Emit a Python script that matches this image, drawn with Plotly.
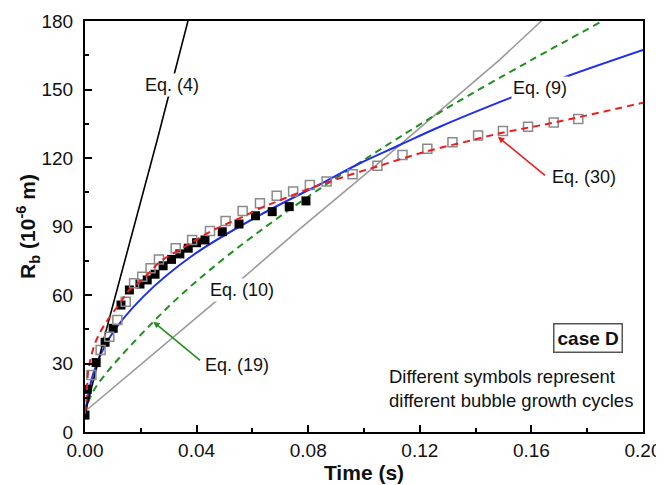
import plotly.graph_objects as go

# ---- data ----
t_filled = [0.0, 0.0008, 0.004, 0.0072, 0.0101, 0.0129, 0.0159, 0.0197, 0.0223, 0.0251, 0.028,
            0.031, 0.034, 0.037, 0.040, 0.043, 0.0492, 0.0552, 0.0611, 0.0671, 0.0732, 0.0792]
r_filled = [7.4, 18.7, 30.4, 39.3, 45.4, 55.6, 62.2, 64.8, 66.6, 69.1, 72.8,
            75.6, 78.0, 80.5, 82.9, 84.1, 87.7, 91.1, 94.7, 96.5, 98.7, 101.2]

t_open = [0.0023, 0.0056, 0.0087, 0.0116, 0.0146, 0.0176, 0.0205, 0.0235, 0.0265, 0.0325,
          0.0384, 0.0448, 0.0504, 0.0565, 0.0627, 0.0687, 0.0746, 0.0806, 0.0866, 0.0959,
          0.1048, 0.1138, 0.1227, 0.1317, 0.1409, 0.1498, 0.1588, 0.168, 0.1768]
r_open = [25, 35.9, 41.7, 49, 57, 65.1, 68, 71.7, 75.6, 80.5,
          84.1, 88.0, 92.4, 96.8, 100.2, 103.5, 105.3, 108.2, 109.7, 112.9,
          116.6, 121.3, 124, 126.9, 129.8, 131.8, 133.7, 135.5, 137.1]

t_eq4 = [0, 0.004, 0.0066, 0.0123, 0.0259, 0.0369]
r_eq4 = [8, 28, 40, 66, 128, 180]

t_eq9 = [0, 0.0006, 0.003, 0.009, 0.0209, 0.0388, 0.0627, 0.0866, 0.0985, 0.1128, 0.1272, 0.1522, 0.1731, 0.2]
r_eq9 = [8, 12.6, 25.7, 41.7, 59.3, 77.5, 95, 110, 117.7, 125.7, 133.7, 146.2, 155.9, 167.3]

t_eq10 = [0, 0.0472, 0.077, 0.1045, 0.1486, 0.1636]
r_eq10 = [9, 57.5, 89, 117, 163, 180]

t_eq19 = [0, 0.003, 0.0245, 0.0448, 0.0734, 0.0985, 0.1272, 0.1594, 0.1855]
r_eq19 = [8, 18, 48.3, 71, 97.5, 118, 140, 162.5, 180]

t_eq30 = [0, 0.0006, 0.0012, 0.0036, 0.007, 0.0125, 0.0159, 0.0197, 0.0233, 0.0269, 0.0328,
          0.0388, 0.0448, 0.0507, 0.0567, 0.0627, 0.0687, 0.0746, 0.0806, 0.0866, 0.0925,
          0.0985, 0.1045, 0.1227, 0.1391, 0.1486, 0.168, 0.2]
r_eq30 = [8, 15.5, 27, 38.8, 47, 56.4, 62.2, 65.8, 70.2, 74.6, 79,
          83.4, 87.7, 91.1, 94.3, 98, 100.9, 103.8, 106.7, 109.2, 111.6,
          114, 116.2, 123, 127.9, 130.8, 135.5, 144.2]

x_ticks = [0.00, 0.04, 0.08, 0.12, 0.16, 0.20]
y_ticks = [0, 30, 60, 90, 120, 150, 180]

FONT = "Arial, Liberation Sans, sans-serif"

fig = go.Figure()
fig.add_trace(go.Scatter(x=t_eq10, y=r_eq10, mode="lines", line=dict(color="#9a9a9a", width=1.6)))
fig.add_trace(go.Scatter(x=t_eq19, y=r_eq19, mode="lines", line=dict(color="#1f8f1f", width=2, dash="7px,5px", shape="spline")))
fig.add_trace(go.Scatter(x=t_eq9, y=r_eq9, mode="lines", line=dict(color="#1f2fe6", width=2, shape="spline")))
fig.add_trace(go.Scatter(x=t_eq4, y=r_eq4, mode="lines", line=dict(color="black", width=1.6)))
fig.add_trace(go.Scatter(x=t_filled, y=r_filled, mode="markers",
                         marker=dict(symbol="square", size=9, color="black")))
fig.add_trace(go.Scatter(x=t_open, y=r_open, mode="markers",
                         marker=dict(symbol="square-open", size=9, color="#8a8a8a", line=dict(width=1.5))))
fig.add_trace(go.Scatter(x=t_eq30, y=r_eq30, mode="lines", line=dict(color="#ee1c1c", width=2, dash="7px,5px", shape="spline")))

ann_font = dict(family=FONT, size=18, color="#111")
annotations = [
    dict(x=0.0312, y=152, text="Eq. (4)", showarrow=False, font=ann_font, bgcolor="white"),
    dict(x=0.1631, y=150.7, text="Eq. (9)", showarrow=False, font=ann_font, bgcolor="white"),
    dict(x=0.0562, y=62.2, text="Eq. (10)", showarrow=False, font=ann_font, bgcolor="white"),
    dict(x=0.0546, y=29.3, text="Eq. (19)", showarrow=False, font=ann_font),
    dict(x=0.1787, y=111.7, text="Eq. (30)", showarrow=False, font=ann_font),
    dict(x=0.0245, y=48.3, ax=0.0418, ay=30.8, axref="x", ayref="y", text="", showarrow=True,
         arrowhead=2, arrowsize=0.8, arrowwidth=1.6, arrowcolor="#1f8f1f"),
    dict(x=0.148, y=129.3, ax=0.1654, ay=111.8, axref="x", ayref="y", text="", showarrow=True,
         arrowhead=2, arrowsize=0.8, arrowwidth=1.6, arrowcolor="#ee1c1c"),
    dict(x=0.1802, y=41.2, text="<b>case D</b>", showarrow=False,
         font=dict(family=FONT, size=19, color="#111"), bordercolor="#555", borderwidth=1.5, borderpad=3),
    dict(x=0.1083, y=18.9, xanchor="left", align="left", showarrow=False,
         text="Different symbols represent<br>different bubble growth cycles",
         font=dict(family=FONT, size=18.5, color="#111")),
]

# page body adds an 8px offset; figure is sized/margined to compensate
fig.update_layout(
    width=656, height=477,
    margin=dict(l=77, r=21, t=13, b=53),
    paper_bgcolor="white", plot_bgcolor="white",
    showlegend=False,
    font=dict(family=FONT, size=19, color="#111"),
    annotations=annotations,
    xaxis=dict(range=[0, 0.2], tickvals=x_ticks, tickformat=".2f", automargin=False,
               ticks="inside", ticklen=7, tickwidth=1.5, tickcolor="black",
               minor=dict(dtick=0.02, ticks="inside", ticklen=4, tickwidth=1.5, tickcolor="black"),
               showline=True, linecolor="black", linewidth=2, mirror=True, showgrid=False, zeroline=False,
               title=dict(text="<b>Time (s)</b>", font=dict(size=21), standoff=6),
               tickfont=dict(size=19)),
    yaxis=dict(range=[0, 180], tickvals=y_ticks, automargin=False, ticklabelstandoff=6,
               ticks="inside", ticklen=7, tickwidth=1.5, tickcolor="black",
               minor=dict(dtick=15, ticks="inside", ticklen=4, tickwidth=1.5, tickcolor="black"),
               showline=True, linecolor="black", linewidth=2, mirror=True, showgrid=False, zeroline=False,
               title=dict(text="<b>R<sub>b</sub> (10<sup>-6</sup> m)</b>", font=dict(size=21), standoff=0),
               tickfont=dict(size=19)),
)

fig.write_html("out.html")
